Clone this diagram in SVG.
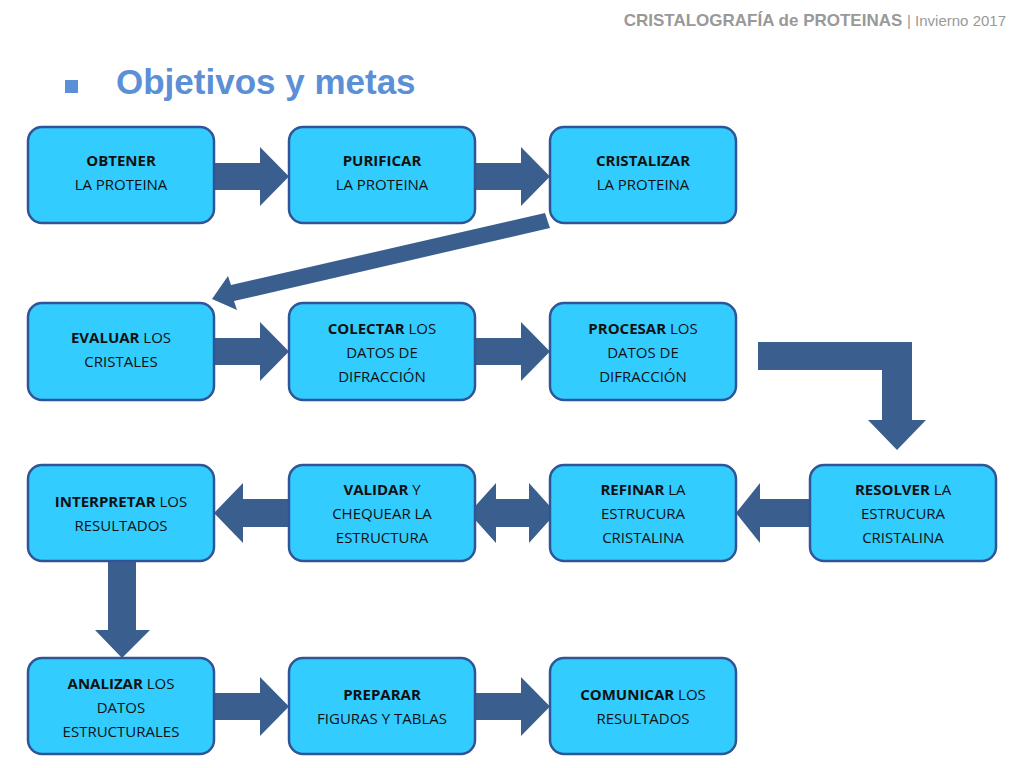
<svg xmlns="http://www.w3.org/2000/svg" width="1024" height="768" viewBox="0 0 1024 768">
<style>
.n rect{fill:#33CCFF;stroke:#2F5597;stroke-width:2.5}
.n text{font-family:"Open Sans","Noto Sans",sans-serif;font-size:15px;fill:#111;text-anchor:middle}
.b{font-weight:bold}
.c path{fill:#3A5F8F}
</style>
<rect width="1024" height="768" fill="#fff"/>
<text x="1006" y="26" text-anchor="end" font-family="'Liberation Sans',Arial,sans-serif" font-size="17" fill="#999" font-weight="bold">CRISTALOGRAFÍA de PROTEINAS <tspan font-weight="normal" font-size="15">| Invierno 2017</tspan></text>
<rect x="65" y="80" width="13" height="13" fill="#5B8FD6"/>
<text x="116" y="94" font-family="'Liberation Sans',Arial,sans-serif" font-size="35" font-weight="bold" fill="#5B8FD6">Objetivos y metas</text>
<g class="c">
<path d="M214,163H260V147L289,176.5L260,206V190H214Z"/>
<path d="M475,163H521V147L550,176.5L521,206V190H475Z"/>
<path d="M214,338H260V322L289,351.5L260,381V365H214Z"/>
<path d="M475,338H521V322L550,351.5L521,381V365H475Z"/>
<path d="M214,693H260V677L289,706.5L260,736V720H214Z"/>
<path d="M475,693H521V677L550,706.5L521,736V720H475Z"/>
<path d="M810,499H760V483L736,513L760,543V527H810Z"/>
<path d="M289,499H243V483L214,513L243,543V527H289Z"/>
<path d="M496,499H529V483L556,513L529,543V527H496V543L469,513L496,483Z"/>
<path d="M545,213L550,228L234,301L237,310L212,299L228,276L231,285Z"/>
<path d="M758,342H912V420H926L897,450L868,420H882V370H758Z"/>
<path d="M108,561H136V630H150L122,658L95,630H108Z"/>
</g>
<g class="n" id="n1"><rect x="28" y="127" width="186" height="96" rx="14"/><text x="121" y="166"><tspan class="b">OBTENER</tspan><tspan x="121" dy="24">LA PROTEINA</tspan></text></g>
<g class="n" id="n2"><rect x="289" y="127" width="186" height="96" rx="14"/><text x="382" y="166"><tspan class="b">PURIFICAR</tspan><tspan x="382" dy="24">LA PROTEINA</tspan></text></g>
<g class="n" id="n3"><rect x="550" y="127" width="186" height="96" rx="14"/><text x="643" y="166"><tspan class="b">CRISTALIZAR</tspan><tspan x="643" dy="24">LA PROTEINA</tspan></text></g>
<g class="n" id="n4"><rect x="28" y="303" width="186" height="97" rx="14"/><text x="121" y="343"><tspan class="b">EVALUAR</tspan> LOS<tspan x="121" dy="24">CRISTALES</tspan></text></g>
<g class="n" id="n5"><rect x="289" y="303" width="186" height="97" rx="14"/><text x="382" y="334"><tspan class="b">COLECTAR</tspan>  LOS<tspan x="382" dy="24">DATOS DE</tspan><tspan x="382" dy="24">DIFRACCIÓN</tspan></text></g>
<g class="n" id="n6"><rect x="550" y="303" width="186" height="97" rx="14"/><text x="643" y="334"><tspan class="b">PROCESAR</tspan> LOS<tspan x="643" dy="24">DATOS DE</tspan><tspan x="643" dy="24">DIFRACCIÓN</tspan></text></g>
<g class="n" id="n7"><rect x="28" y="465" width="186" height="96" rx="14"/><text x="121" y="507"><tspan class="b">INTERPRETAR</tspan> LOS<tspan x="121" dy="24">RESULTADOS</tspan></text></g>
<g class="n" id="n8"><rect x="289" y="465" width="186" height="96" rx="14"/><text x="382" y="495"><tspan class="b">VALIDAR</tspan> Y<tspan x="382" dy="24">CHEQUEAR LA</tspan><tspan x="382" dy="24">ESTRUCTURA</tspan></text></g>
<g class="n" id="n9"><rect x="550" y="465" width="186" height="96" rx="14"/><text x="643" y="495"><tspan class="b">REFINAR</tspan> LA<tspan x="643" dy="24">ESTRUCURA</tspan><tspan x="643" dy="24">CRISTALINA</tspan></text></g>
<g class="n" id="n10"><rect x="810" y="465" width="186" height="96" rx="14"/><text x="903" y="495"><tspan class="b">RESOLVER</tspan> LA<tspan x="903" dy="24">ESTRUCURA</tspan><tspan x="903" dy="24">CRISTALINA</tspan></text></g>
<g class="n" id="n11"><rect x="28" y="658" width="186" height="96" rx="14"/><text x="121" y="689"><tspan class="b">ANALIZAR</tspan> LOS<tspan x="121" dy="24">DATOS</tspan><tspan x="121" dy="24">ESTRUCTURALES</tspan></text></g>
<g class="n" id="n12"><rect x="289" y="658" width="186" height="96" rx="14"/><text x="382" y="700"><tspan class="b">PREPARAR</tspan><tspan x="382" dy="24">FIGURAS Y TABLAS</tspan></text></g>
<g class="n" id="n13"><rect x="550" y="658" width="186" height="96" rx="14"/><text x="643" y="700"><tspan class="b">COMUNICAR</tspan> LOS<tspan x="643" dy="24">RESULTADOS</tspan></text></g>
</svg>
